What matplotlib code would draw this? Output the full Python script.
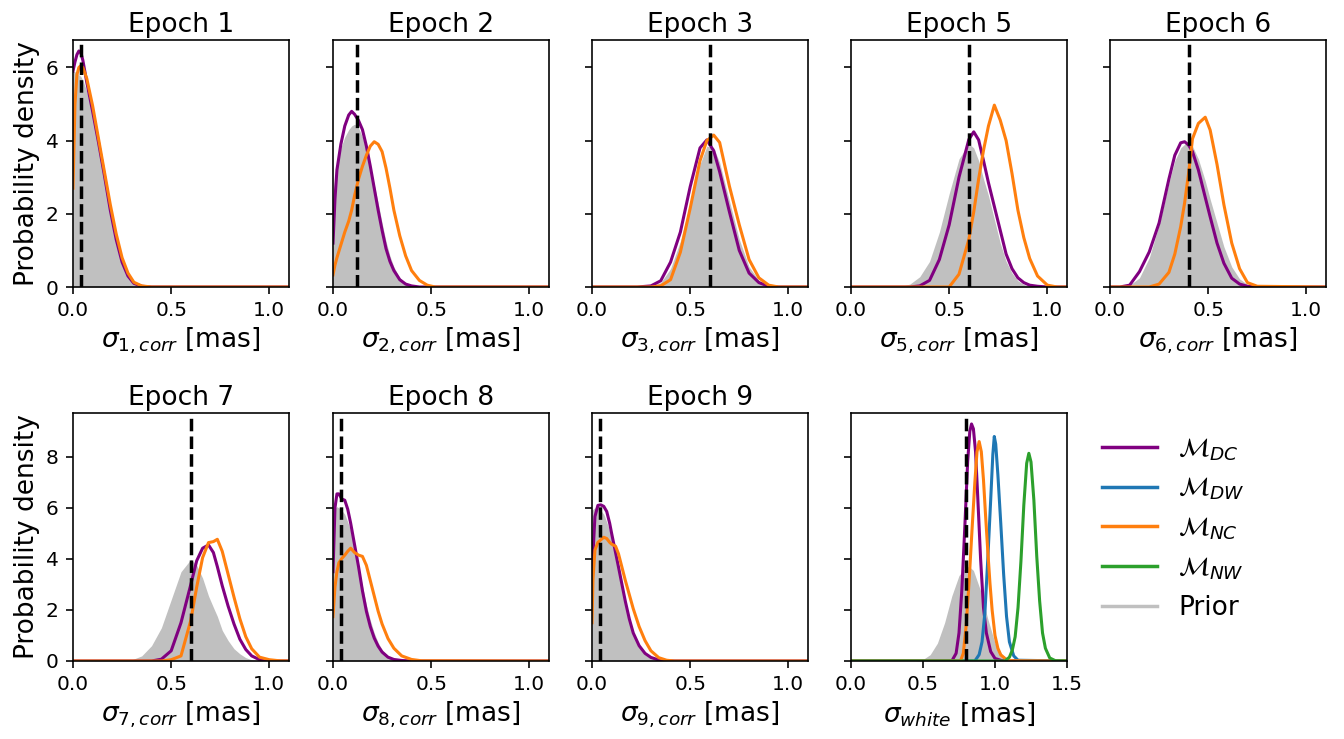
import matplotlib
matplotlib.use("Agg")
import matplotlib.pyplot as plt
from matplotlib.lines import Line2D

# ---------------- data ----------------
epochs = [1, 2, 3, 5, 6, 7, 8, 9]
true_vals = [0.04, 0.12, 0.6, 0.6, 0.4, 0.6, 0.04, 0.04]
true_white = 0.8

e1_x = [0, 0.01, 0.02, 0.03, 0.04, 0.05, 0.07, 0.10, 0.13, 0.16, 0.19, 0.22, 0.25, 0.28, 0.31, 0.35, 0.40, 1.1]
e1_dc = [5.9, 6.15, 6.35, 6.45, 6.4, 6.2, 5.6, 4.8, 3.95, 3.05, 2.1, 1.3, 0.68, 0.3, 0.1, 0.02, 0.0, 0.0]
e1_nc = [2.7, 5.0, 5.8, 6.0, 6.05, 6.0, 5.7, 4.95, 4.05, 3.15, 2.25, 1.45, 0.8, 0.38, 0.13, 0.03, 0.0, 0.0]
e1_pr = [5.9, 5.88, 5.85, 5.8, 5.75, 5.65, 5.35, 4.7, 3.9, 3.0, 2.1, 1.3, 0.7, 0.3, 0.1, 0.02, 0.0, 0.0]

e2_x = [0, 0.01, 0.02, 0.04, 0.06, 0.08, 0.095, 0.11, 0.13, 0.15, 0.17, 0.19, 0.21, 0.23, 0.25,
        0.27, 0.29, 0.31, 0.34, 0.37, 0.40, 0.44, 0.48, 0.52, 1.1]
e2_dc = [1.2, 2.4, 3.2, 3.9, 4.4, 4.7, 4.8, 4.72, 4.55, 4.3, 3.85, 3.3, 2.7, 2.1, 1.55,
         1.05, 0.7, 0.45, 0.2, 0.08, 0.03, 0.0, 0.0, 0.0, 0.0]
e2_nc = [0.33, 0.6, 0.8, 1.15, 1.5, 1.8, 2.1, 2.5, 2.95, 3.3, 3.6, 3.85, 3.97, 3.9, 3.7,
         3.25, 2.7, 2.1, 1.4, 0.85, 0.45, 0.18, 0.05, 0.0, 0.0]
e2_pr = [2.5, 3.0, 3.3, 3.8, 4.1, 4.3, 4.4, 4.45, 4.35, 4.1, 3.75, 3.3, 2.8, 2.3, 1.75,
         1.25, 0.85, 0.55, 0.25, 0.1, 0.04, 0.01, 0.0, 0.0, 0.0]

e3_x = [0, 0.23, 0.30, 0.35, 0.40, 0.45, 0.50, 0.55, 0.585, 0.62, 0.65, 0.70, 0.75, 0.80, 0.85, 0.90, 0.95, 1.1]
e3_dc = [0, 0, 0.03, 0.17, 0.68, 1.5, 2.74, 3.8, 4.02, 3.72, 3.15, 2.05, 1.0, 0.38, 0.12, 0.02, 0, 0]
e3_nc = [0, 0, 0.0, 0.03, 0.2, 0.95, 2.15, 3.45, 4.0, 4.15, 3.95, 2.75, 1.7, 0.75, 0.25, 0.05, 0.0, 0]
e3_pr = [0, 0, 0.03, 0.12, 0.5, 1.25, 2.3, 3.35, 3.85, 3.8, 3.4, 2.35, 1.3, 0.55, 0.18, 0.04, 0, 0]

e5_x = [0, 0.25, 0.30, 0.35, 0.40, 0.45, 0.50, 0.55, 0.60, 0.625, 0.65, 0.675, 0.70, 0.73,
        0.76, 0.79, 0.82, 0.85, 0.88, 0.91, 0.95, 1.0, 1.05, 1.1]
e5_dc = [0, 0, 0, 0.03, 0.18, 0.75, 1.7, 3.0, 4.03, 4.24, 4.02, 3.45, 2.85, 2.2,
         1.55, 0.9, 0.5, 0.25, 0.12, 0.05, 0.02, 0, 0, 0]
e5_nc = [0, 0, 0, 0, 0, 0, 0.0, 0.35, 1.3, 2.05, 2.95, 3.74, 4.4, 4.97,
         4.56, 4.0, 3.1, 2.1, 1.35, 0.78, 0.3, 0.05, 0.0, 0]
e5_pr = [0, 0.01, 0.08, 0.28, 0.7, 1.5, 2.55, 3.5, 3.92, 3.8, 3.45, 2.95, 2.5, 1.85,
         1.2, 0.7, 0.38, 0.17, 0.07, 0.02, 0, 0, 0, 0]

e6_x = [0, 0.05, 0.10, 0.15, 0.20, 0.25, 0.30, 0.33, 0.36, 0.38, 0.40, 0.42, 0.45, 0.485,
        0.51, 0.545, 0.58, 0.62, 0.66, 0.70, 0.75, 1.1]
e6_dc = [0, 0.0, 0.05, 0.42, 0.96, 1.75, 2.95, 3.6, 3.94, 3.97, 3.88, 3.7, 3.2, 2.45,
         1.92, 1.2, 0.65, 0.24, 0.08, 0.02, 0, 0]
e6_nc = [0, 0, 0, 0, 0.0, 0.08, 0.4, 0.9, 1.65, 2.3, 3.1, 4.05, 4.47, 4.64,
         4.29, 3.35, 2.25, 1.2, 0.5, 0.12, 0.02, 0]
e6_pr = [0, 0, 0.05, 0.25, 0.8, 1.7, 2.85, 3.45, 3.8, 3.9, 3.92, 3.85, 3.5, 2.9,
         2.4, 1.75, 1.1, 0.55, 0.22, 0.07, 0.01, 0]

e7_x = [0, 0.30, 0.35, 0.40, 0.45, 0.50, 0.55, 0.60, 0.63, 0.66, 0.69, 0.715, 0.735, 0.76,
        0.79, 0.82, 0.85, 0.88, 0.91, 0.95, 1.0, 1.05, 1.1]
e7_dc = [0, 0, 0, 0.0, 0.07, 0.4, 1.5, 3.0, 3.93, 4.42, 4.55, 4.25, 3.7, 2.95,
         2.15, 1.45, 0.85, 0.45, 0.2, 0.05, 0.01, 0, 0]
e7_nc = [0, 0, 0, 0, 0.0, 0.05, 0.2, 1.6, 2.9, 4.05, 4.64, 4.68, 4.77, 4.3,
         3.4, 2.5, 1.65, 0.95, 0.48, 0.15, 0.05, 0.01, 0]
e7_pr = [0, 0.05, 0.2, 0.6, 1.3, 2.4, 3.5, 3.98, 3.75, 3.25, 2.55, 2.1, 1.75, 1.2,
         0.8, 0.48, 0.28, 0.13, 0.05, 0.02, 0, 0, 0]

e8_x = [0, 0.01, 0.02, 0.03, 0.045, 0.06, 0.075, 0.09, 0.11, 0.13, 0.15, 0.17, 0.19, 0.21,
        0.23, 0.25, 0.28, 0.31, 0.35, 0.40, 0.45, 1.1]
e8_dc = [3.5, 6.0, 6.55, 6.55, 6.35, 6.3, 5.95, 5.4, 4.55, 3.7, 2.75, 1.95, 1.35, 0.9,
         0.58, 0.35, 0.15, 0.06, 0.02, 0, 0, 0]
e8_nc = [1.74, 2.9, 3.5, 3.85, 4.02, 4.15, 4.3, 4.42, 4.25, 4.15, 4.1, 3.75, 3.15, 2.55,
         1.95, 1.45, 0.88, 0.5, 0.2, 0.06, 0.01, 0]
e8_pr = [5.9, 6.0, 6.05, 6.0, 5.9, 5.75, 5.45, 5.1, 4.45, 3.7, 2.95, 2.2, 1.6, 1.1,
         0.72, 0.45, 0.2, 0.08, 0.02, 0, 0, 0]

e9_x = [0, 0.005, 0.015, 0.03, 0.045, 0.06, 0.075, 0.09, 0.10, 0.12, 0.135, 0.15, 0.17, 0.19,
        0.21, 0.24, 0.27, 0.30, 0.34, 0.38, 0.42, 1.1]
e9_dc = [3.0, 4.2, 5.66, 6.1, 6.12, 6.06, 5.86, 5.4, 5.0, 4.25, 3.68, 3.1, 2.33, 1.65,
         1.1, 0.6, 0.3, 0.14, 0.04, 0.01, 0, 0]
e9_nc = [1.5, 3.2, 4.35, 4.65, 4.75, 4.85, 4.8, 4.65, 4.58, 4.5, 4.2, 3.75, 3.15, 2.6,
         2.05, 1.35, 0.8, 0.4, 0.13, 0.03, 0, 0]
e9_pr = [5.9, 5.95, 6.0, 6.0, 5.9, 5.75, 5.45, 5.1, 4.8, 4.1, 3.6, 2.95, 2.2, 1.6,
         1.1, 0.6, 0.28, 0.12, 0.03, 0.01, 0, 0]

w_dc_x = [0, 0.70, 0.73, 0.75, 0.77, 0.79, 0.81, 0.825, 0.837, 0.85, 0.865, 0.88, 0.90, 0.92, 0.94, 0.97, 1.0, 1.05, 1.5]
w_dc_y = [0, 0.0, 0.3, 1.1, 2.8, 5.2, 7.8, 9.0, 9.29, 9.1, 8.2, 6.45, 4.0, 2.1, 1.1, 0.37, 0.1, 0.01, 0]
w_dw_x = [0, 0.86, 0.89, 0.91, 0.93, 0.95, 0.97, 0.985, 0.995, 1.005, 1.02, 1.04, 1.06, 1.08, 1.10, 1.13, 1.16, 1.5]
w_dw_y = [0, 0.0, 0.25, 0.75, 1.9, 4.0, 6.31, 8.1, 8.8, 8.5, 7.3, 5.4, 3.4, 1.75, 0.75, 0.2, 0.03, 0]
w_nc_x = [0, 0.76, 0.78, 0.80, 0.82, 0.84, 0.86, 0.875, 0.89, 0.905, 0.92, 0.935, 0.95, 0.965, 0.98, 1.0, 1.02, 1.04, 1.08, 1.12, 1.5]
w_nc_y = [0, 0.0, 0.3, 1.4, 3.1, 5.1, 7.0, 8.2, 8.6, 8.2, 7.1, 5.66, 4.3, 3.05, 2.0, 1.0, 0.5, 0.24, 0.05, 0.01, 0]
w_nw_x = [0, 1.07, 1.10, 1.12, 1.14, 1.16, 1.18, 1.20, 1.22, 1.235, 1.25, 1.27, 1.29, 1.31, 1.33, 1.35, 1.38, 1.42, 1.5]
w_nw_y = [0, 0.0, 0.15, 0.42, 0.95, 2.1, 3.9, 6.1, 7.75, 8.14, 7.8, 6.3, 4.1, 2.35, 1.1, 0.5, 0.12, 0.01, 0]
w_pr_x = [0, 0.45, 0.50, 0.55, 0.60, 0.65, 0.70, 0.75, 0.80, 0.82, 0.85, 0.90, 0.95, 1.00, 1.05, 1.10, 1.15, 1.5]
w_pr_y = [0, 0.01, 0.06, 0.25, 0.7, 1.5, 2.55, 3.35, 3.68, 3.7, 3.55, 2.75, 1.65, 0.7, 0.25, 0.06, 0.01, 0]

model_labels = [r"$\mathcal{M}_{DC}$", r"$\mathcal{M}_{DW}$", r"$\mathcal{M}_{NC}$",
                r"$\mathcal{M}_{NW}$", "Prior"]

# ---------------- styling ----------------
C_DC, C_DW, C_NC, C_NW, C_PR = "purple", "tab:blue", "tab:orange", "tab:green", "silver"
LW = 2.2
DLW = 2.5
TICK_FS = 14.5
LAB_FS = 19

plt.rcParams.update({
    "axes.linewidth": 1.17,
    "xtick.major.width": 1.17, "ytick.major.width": 1.17,
    "xtick.major.size": 5.1, "ytick.major.size": 5.1,
    "xtick.major.pad": 5.1, "ytick.major.pad": 5.1,
    "xtick.labelsize": TICK_FS, "ytick.labelsize": TICK_FS,
})

W, H = 1344, 739
fig = plt.figure(figsize=(W / 100, H / 100), dpi=100)

col_left = [73, 333, 592, 851, 1110]
ax_w = 216
rows = [(40, 287), (413, 661)]


def make_ax(r, c):
    top, bot = rows[r]
    return fig.add_axes([col_left[c] / W, 1 - bot / H, ax_w / W, (bot - top) / H])


panels = [
    (e1_x, e1_dc, e1_nc, e1_pr), (e2_x, e2_dc, e2_nc, e2_pr),
    (e3_x, e3_dc, e3_nc, e3_pr), (e5_x, e5_dc, e5_nc, e5_pr),
    (e6_x, e6_dc, e6_nc, e6_pr), (e7_x, e7_dc, e7_nc, e7_pr),
    (e8_x, e8_dc, e8_nc, e8_pr), (e9_x, e9_dc, e9_nc, e9_pr),
]
ylims = [6.75, 9.72]
yticks = [[0, 2, 4, 6], [0, 2, 4, 6, 8]]

for i, (ep, tv, (xs, dc, nc, pr)) in enumerate(zip(epochs, true_vals, panels)):
    r, c = divmod(i, 5)
    ax = make_ax(r, c)
    ax.fill_between(xs, pr, 0, color=C_PR, linewidth=0)
    ax.plot(xs, dc, color=C_DC, lw=LW)
    ax.plot(xs, nc, color=C_NC, lw=LW)
    ax.axvline(tv, color="black", ls="--", lw=DLW, dashes=(3.6, 1.5))
    ax.set_xlim(0, 1.1)
    ax.set_ylim(0, ylims[r])
    ax.set_xticks([0.0, 0.5, 1.0])
    ax.set_yticks(yticks[r])
    ax.set_title(f"Epoch {ep}", fontsize=LAB_FS)
    ax.set_xlabel(rf"$\sigma_{{{ep}, corr}}$ [mas]", fontsize=LAB_FS)
    if c == 0:
        ax.set_ylabel("Probability density", fontsize=LAB_FS)
    else:
        ax.set_yticklabels([])

# white-noise panel
ax = make_ax(1, 3)
ax.fill_between(w_pr_x, w_pr_y, 0, color=C_PR, linewidth=0)
ax.plot(w_dc_x, w_dc_y, color=C_DC, lw=LW)
ax.plot(w_dw_x, w_dw_y, color=C_DW, lw=LW)
ax.plot(w_nc_x, w_nc_y, color=C_NC, lw=LW)
ax.plot(w_nw_x, w_nw_y, color=C_NW, lw=LW)
ax.axvline(true_white, color="black", ls="--", lw=DLW, dashes=(3.6, 1.5))
ax.set_xlim(0, 1.5)
ax.set_ylim(0, ylims[1])
ax.set_xticks([0.0, 0.5, 1.0, 1.5])
ax.set_yticks(yticks[1])
ax.set_yticklabels([])
ax.set_xlabel(r"$\sigma_{white}$ [mas]", fontsize=LAB_FS)

handles = [Line2D([], [], color=col, lw=2.5) for col in (C_DC, C_DW, C_NC, C_NW, C_PR)]
fig.legend(handles, model_labels, loc="center left", bbox_to_anchor=(1091 / W, 1 - 528.5 / H),
           frameon=False, fontsize=LAB_FS, borderaxespad=0, handlelength=2.1)

fig.savefig("out.png", dpi=100)
